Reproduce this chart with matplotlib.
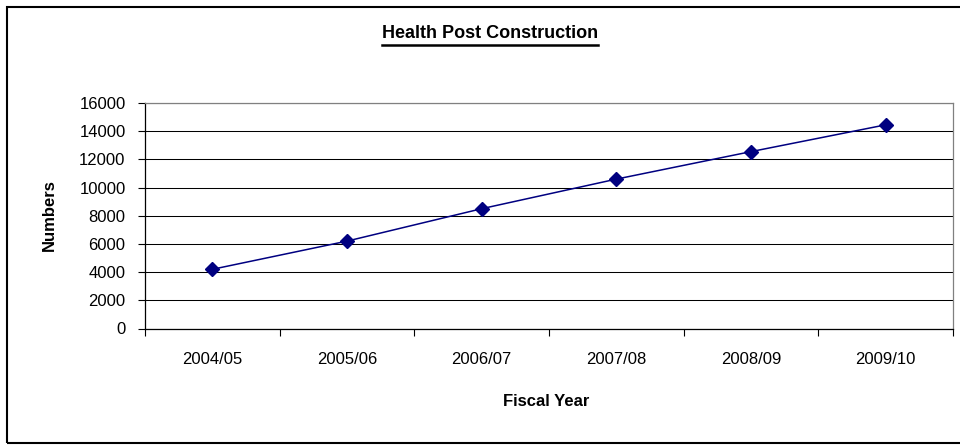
import matplotlib.pyplot as plt
from matplotlib.lines import Line2D
from matplotlib.patches import Rectangle

plt.rcParams['font.family'] = ['Liberation Sans', 'DejaVu Sans']

years = ['2004/05', '2005/06', '2006/07', '2007/08', '2008/09', '2009/10']
numbers = [4200, 6200, 8500, 10600, 12550, 14450]
yticks = list(range(0, 16001, 2000))

W, H = 960, 445
fig = plt.figure(figsize=(W / 100, H / 100), dpi=100)
ax = fig.add_axes([145 / W, 1 - 328.5 / H, (953 - 145) / W, (328.5 - 103) / H])

xs = list(range(len(years)))
ax.plot(xs, numbers, color='#000080', lw=1.1, marker='D', markersize=7,
        markerfacecolor='#000080', markeredgecolor='#000080', zorder=3)

ax.set_xlim(-0.5, len(years) - 0.5)
ax.set_ylim(0, 16000)
ax.set_yticks(yticks)
ax.set_yticklabels([str(v) for v in yticks], fontsize=12)
ax.yaxis.grid(True, color='black', lw=0.75)
ax.set_axisbelow(True)

# category boundaries get tick marks, labels sit at the centres
ax.set_xticks([i - 0.5 for i in range(len(years) + 1)])
ax.set_xticklabels([])
ax.set_xticks(xs, minor=True)
ax.set_xticklabels(years, minor=True, fontsize=12)
ax.tick_params(axis='x', which='major', direction='out', length=5, width=0.8, color='black')
ax.tick_params(axis='x', which='minor', length=0, pad=17)
ax.tick_params(axis='y', direction='out', length=5, width=0.8, color='black', pad=9)

ax.spines['left'].set_color('black')
ax.spines['bottom'].set_color('black')
ax.spines['top'].set_color('#808080')
ax.spines['right'].set_color('#808080')
for s in ax.spines.values():
    s.set_linewidth(0.9)

fig.text(49 / W, 1 - 215 / H, 'Numbers', rotation=90, ha='center', va='center',
         fontsize=12, fontweight='bold')
fig.text(546 / W, 1 - 401.5 / H, 'Fiscal Year', ha='center', va='center',
         fontsize=12, fontweight='bold')
title = fig.text(490 / W, 1 - 34 / H, 'Health Post Construction', ha='center',
                 va='center', fontsize=13, fontweight='bold')

# underline the title
fig.canvas.draw()
bb = title.get_window_extent().transformed(fig.transFigure.inverted())
uy = 1 - 45 / H
fig.add_artist(Line2D([bb.x0, bb.x1], [uy, uy], transform=fig.transFigure,
                      color='black', lw=1.8))

# chart area border
fig.add_artist(Rectangle((7 / W, 2 / H), 1.0, 1 - 9 / H, transform=fig.transFigure,
                         fill=False, edgecolor='black', lw=1.5))

fig.savefig('out.png', dpi=100)
